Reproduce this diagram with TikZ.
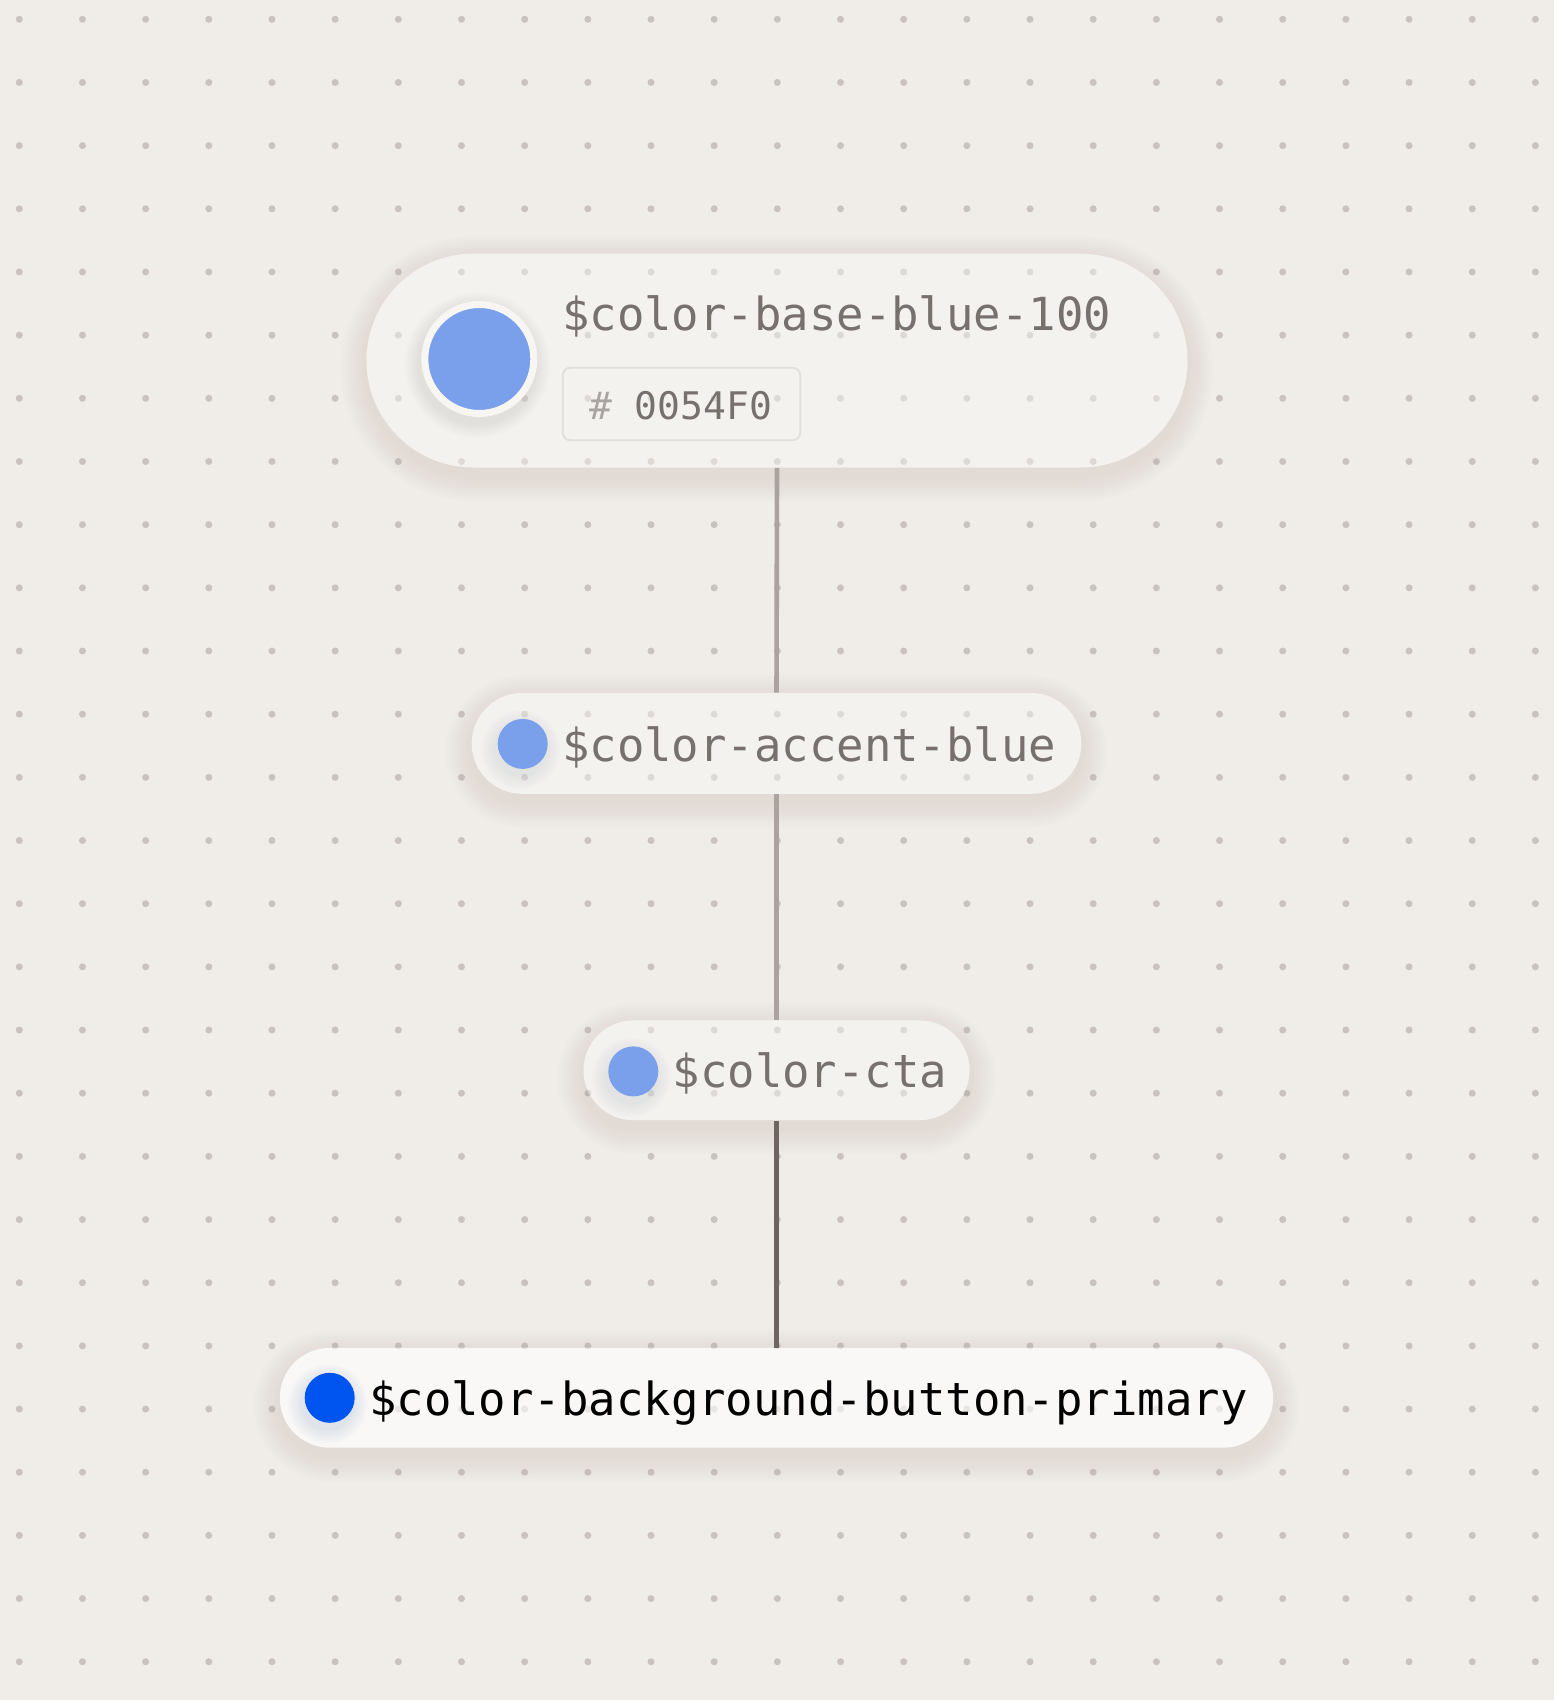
\documentclass[tikz,border=0pt]{standalone}
\usepackage{fontspec}
\setmonofont{DejaVu Sans Mono}
\definecolor{bgc}{HTML}{F0ECE8}
\definecolor{dotc}{HTML}{C9C2BE}
\definecolor{dotin}{HTML}{DDD9D5}
\definecolor{panelc}{HTML}{F4F2EF}
\definecolor{panelw}{HTML}{F9F8F6}
\definecolor{txtc}{HTML}{77716E}
\definecolor{hashc}{HTML}{A9A4A1}
\definecolor{lightblue}{HTML}{7AA0EC}
\definecolor{brand}{HTML}{0054F0}
\definecolor{connl}{HTML}{ABA3A0}
\definecolor{connd}{HTML}{6E6563}
\definecolor{hexb}{HTML}{E3E0DC}
\definecolor{ringc}{HTML}{F8F6F3}
\definecolor{shadc}{HTML}{6A6058}
\newcommand{\dotgrid}[1]{%
  \foreach \i in {0,...,24}{\foreach \j in {0,...,26}{%
    \fill[#1] ({19.3+63.17*\i},{19.3+63.17*\j}) circle[radius=1.75pt];}}}
% soft shadow behind a pill: x1,y1,x2,y2 (px), corner radius (pt)
\newcommand{\softshadow}[5]{%
  \foreach \k in {1,...,10}{%
    \pgfmathsetmacro\rr{#5+\k*1.3}%
    \fill[shadc, fill opacity=0.008, rounded corners=\rr pt]
      ({#1-\k*2.6},{#2-\k*2.6+8}) rectangle ({#3+\k*2.6},{#4+\k*2.6+8});}}
% soft glow behind a swatch: cx, cy (px), radius (pt), colour
\newcommand{\swatchshadow}[4]{%
  \foreach \k in {1,...,6}{%
    \pgfmathsetmacro\rr{#3+\k*1.2}%
    \fill[#4, fill opacity=0.02] ({#1-2},{#2+6}) circle[radius=\rr pt];}}
\tikzset{
  panel/.style={rectangle, inner sep=0pt, draw=none},
  swatch/.style={circle, inner sep=0pt, draw=none},
  label/.style={anchor=base west, inner sep=0pt, font=\ttfamily\fontsize{22.8}{23}\selectfont, text=txtc},
  connector/.style={line width=2.3pt},
  hexbox/.style={rectangle, rounded corners=4pt, draw=hexb, line width=1pt, inner sep=0pt}
}
\begin{document}
\begin{tikzpicture}[x=0.5pt,y=-0.5pt]
\fill[bgc] (0,0) rectangle (1554,1700);
\useasboundingbox (0,0) rectangle (1554,1700);
\dotgrid{dotc}
% shadows
\softshadow{366.5}{253.7}{1187.5}{467.5}{53.45}
\softshadow{471.7}{693}{1081.3}{793.8}{25.2}
\softshadow{583.5}{1020.4}{969.5}{1120.2}{24.95}
\softshadow{279.8}{1347.9}{1273.2}{1447.7}{24.95}
% panels
\node[panel, fill=panelc, minimum width=410.5pt, minimum height=106.9pt, rounded corners=53.45pt] (p1) at (777,360.6) {};
\node[panel, fill=panelc, minimum width=304.8pt, minimum height=50.4pt, rounded corners=25.2pt] (p2) at (776.5,743.4) {};
\node[panel, fill=panelc, minimum width=193pt, minimum height=49.9pt, rounded corners=24.95pt] (p3) at (776.5,1070.3) {};
\node[panel, fill=panelw, minimum width=496.7pt, minimum height=49.9pt, rounded corners=24.95pt] (p4) at (776.5,1397.8) {};
% dots seen through panels
\begin{scope}
\clip[rounded corners=53.45pt] (366.5,253.7) rectangle (1187.5,467.5);
\dotgrid{dotin}
\end{scope}
\begin{scope}
\clip[rounded corners=25.2pt] (471.7,693) rectangle (1081.3,793.8);
\dotgrid{dotin}
\end{scope}
\begin{scope}
\clip[rounded corners=24.95pt] (583.5,1020.4) rectangle (969.5,1120.2);
\dotgrid{dotin}
\end{scope}
\begin{scope}
\clip[rounded corners=24.95pt] (279.8,1347.9) rectangle (1273.2,1447.7);
\dotgrid{dotin!60!panelw}
\end{scope}
% connectors
\draw[connector, connl] (p1.south) -- (p2.north);
\draw[connector, connl] (p2.south) -- (p3.north);
\draw[connector, connd] (p3.south) -- (p4.north);
% hex box
\node[hexbox, minimum width=118.75pt, minimum height=36.35pt] (hx) at (681.5,404) {};
\node[anchor=base west, inner sep=0pt, font=\ttfamily\fontsize{19}{19}\selectfont, text=txtc] (ht) at (588.8,419.7) {\textcolor{hashc}{\#} 0054F0};
% swatch glows
\swatchshadow{479.3}{359}{29}{shadc}
\swatchshadow{522.7}{743.9}{12.5}{lightblue!60!shadc}
\swatchshadow{633.3}{1071.4}{12.5}{lightblue!60!shadc}
\swatchshadow{329.7}{1397.8}{12.5}{brand!60!shadc}
% swatches
\node[swatch, fill=lightblue, draw=ringc, line width=3.5pt, minimum size=54.5pt] (c1) at (479.3,359) {};
\node[swatch, fill=lightblue, minimum size=25pt] (c2) at (522.7,743.9) {};
\node[swatch, fill=lightblue, minimum size=25pt] (c3) at (633.3,1071.4) {};
\node[swatch, fill=brand, minimum size=25pt] (c4) at (329.7,1397.8) {};
% labels
\node[label] (t1) at (561.7,330.7) {\$color-base-blue-100};
\node[label] (t2) at (561.7,761) {\$color-accent-blue};
\node[label] (t3) at (672.3,1087.7) {\$color-cta};
\node[label, text=black] (t4) at (368.7,1415) {\$color-background-button-primary};
\end{tikzpicture}
\end{document}
